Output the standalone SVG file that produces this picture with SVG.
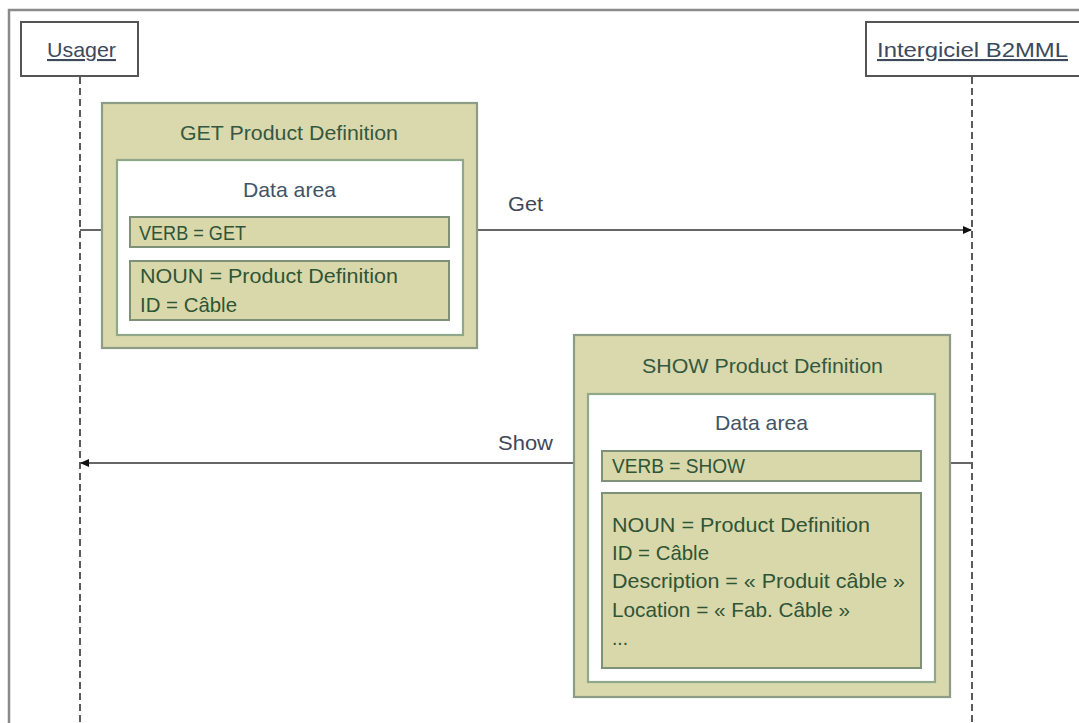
<svg xmlns="http://www.w3.org/2000/svg" width="1079" height="723" viewBox="0 0 1079 723">
<defs>
<style>
text{font-family:"Liberation Sans",Arial,sans-serif;font-size:21px;}
.actor{fill:#ffffff;stroke:#555555;stroke-width:2;}
.actorTxt{fill:#3c4a5c;text-decoration:underline;}
.life{stroke:#333333;stroke-width:1.6;stroke-dasharray:7 4;fill:none;}
.msg{stroke:#666666;stroke-width:2.2;fill:none;}
.msgTxt{fill:#404858;}
.outer{fill:#dad9ad;stroke:#8d9c86;stroke-width:2.2;}
.inner{fill:#ffffff;stroke:#8fa88a;stroke-width:2.2;}
.field{fill:#d9d8ab;stroke:#7e9178;stroke-width:2;}
.title{fill:#34583f;}
.area{fill:#3f5468;}
.ftxt{fill:#2f5436;}
</style>
<marker id="arr" markerWidth="10" markerHeight="10" refX="8" refY="4" orient="auto" markerUnits="userSpaceOnUse">
<path d="M0,0 L9,4 L0,8 Z" fill="#111111"/>
</marker>
</defs>
<rect x="0" y="0" width="1079" height="723" fill="#ffffff"/>
<path d="M9,723 L9,10 L1079,10" fill="none" stroke="#8a8a8a" stroke-width="2.5"/>

<g id="connectors">
<line class="life" x1="80" y1="77" x2="80" y2="723"/>
<line class="life" x1="972" y1="77" x2="972" y2="723"/>
<line class="msg" x1="80" y1="230" x2="971" y2="230" marker-end="url(#arr)"/>
<text class="msgTxt" x="508" y="211" textLength="35" lengthAdjust="spacingAndGlyphs">Get</text>
<line class="msg" x1="972" y1="463" x2="81" y2="463" marker-end="url(#arr)"/>
<text class="msgTxt" x="498" y="450" textLength="55" lengthAdjust="spacingAndGlyphs">Show</text>
</g>

<g id="usager">
<rect class="actor" x="21" y="22" width="117" height="54"/>
<text class="actorTxt" x="47" y="57" textLength="69" lengthAdjust="spacingAndGlyphs">Usager</text>
</g>

<g id="intergiciel">
<rect class="actor" x="866" y="22" width="215" height="54"/>
<text class="actorTxt" x="877" y="57" textLength="191" lengthAdjust="spacingAndGlyphs">Intergiciel B2MML</text>
</g>

<g id="get-product-definition">
<rect class="outer" x="102" y="103" width="375" height="245"/>
<text class="title" x="180" y="140" textLength="218" lengthAdjust="spacingAndGlyphs">GET Product Definition</text>
<rect class="inner" x="117" y="160" width="346" height="175"/>
<text class="area" x="243" y="197" textLength="93" lengthAdjust="spacingAndGlyphs">Data area</text>
<rect class="field" x="130" y="217" width="319" height="30"/>
<text class="ftxt" x="139" y="240" textLength="107" lengthAdjust="spacingAndGlyphs">VERB = GET</text>
<rect class="field" x="130" y="261" width="319" height="59"/>
<text class="ftxt" x="140" y="283" textLength="258" lengthAdjust="spacingAndGlyphs">NOUN = Product Definition</text>
<text class="ftxt" x="140" y="312" textLength="97" lengthAdjust="spacingAndGlyphs">ID = Câble</text>
</g>

<g id="show-product-definition">
<rect class="outer" x="574" y="335" width="376" height="362"/>
<text class="title" x="642" y="373" textLength="241" lengthAdjust="spacingAndGlyphs">SHOW Product Definition</text>
<rect class="inner" x="588" y="394" width="347" height="288"/>
<text class="area" x="715" y="430" textLength="93" lengthAdjust="spacingAndGlyphs">Data area</text>
<rect class="field" x="602" y="451" width="319" height="30"/>
<text class="ftxt" x="612" y="473" textLength="133" lengthAdjust="spacingAndGlyphs">VERB = SHOW</text>
<rect class="field" x="602" y="493" width="319" height="175"/>
<text class="ftxt" x="612" y="532" textLength="258" lengthAdjust="spacingAndGlyphs">NOUN = Product Definition</text>
<text class="ftxt" x="612" y="560" textLength="97" lengthAdjust="spacingAndGlyphs">ID = Câble</text>
<text class="ftxt" x="612" y="588" textLength="293" lengthAdjust="spacingAndGlyphs">Description = « Produit câble »</text>
<text class="ftxt" x="612" y="617" textLength="238" lengthAdjust="spacingAndGlyphs">Location = « Fab. Câble »</text>
<text class="ftxt" x="612" y="645" textLength="16" lengthAdjust="spacingAndGlyphs">...</text>
</g>
</svg>
